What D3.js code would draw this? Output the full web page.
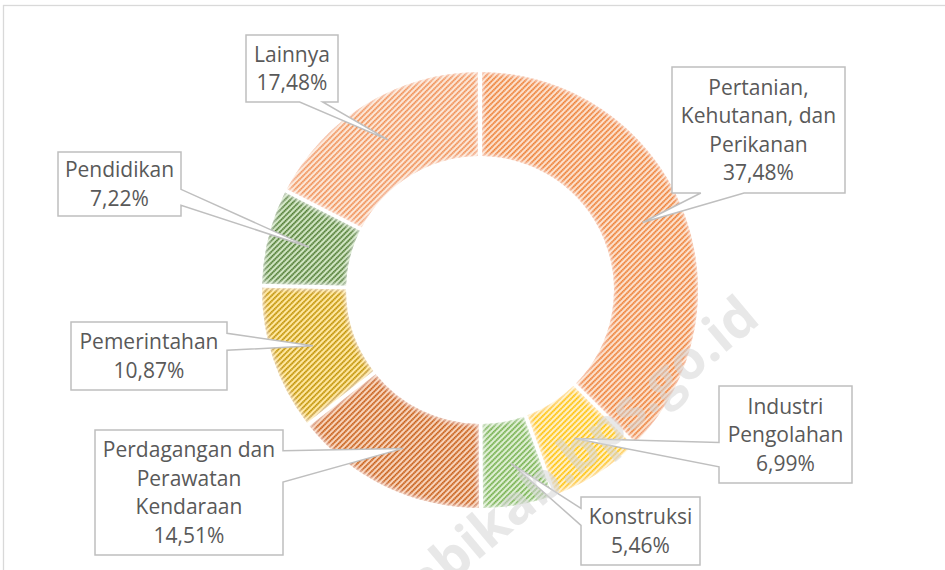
<!DOCTYPE html>
<html>
<head>
<meta charset="utf-8">
<script src="https://cdn.jsdelivr.net/npm/d3@7"></script>
<style>
  html, body { margin: 0; padding: 0; background: #fff; }
  svg { display: block; }
  .lbl { font-family: "Open Sans", sans-serif; font-size: 21px; fill: #595959; }
</style>
</head>
<body>
<div id="chart"></div>
<script>
// sectors (label lines), clockwise from 12 o'clock, and their share in %
var sectors = [
    ["Pertanian,", "Kehutanan, dan", "Perikanan"],
    ["Industri", "Pengolahan"],
    ["Konstruksi"],
    ["Perdagangan dan", "Perawatan", "Kendaraan"],
    ["Pemerintahan"],
    ["Pendidikan"],
    ["Lainnya"]
];
var shares = [37.48, 6.99, 5.46, 14.51, 10.87, 7.22, 17.48];

// pattern colours: stripe colour and ground colour per slice
var stripeColors = ["#ED7D31", "#FFC000", "#70AD47", "#C55A11", "#BF9000", "#4E7A31", "#F08D50"];
var groundColors = ["#FCE0CC", "#FFF0C6", "#DEEFD3", "#F8D3BA", "#FFE7A0", "#D0E5C2", "#FCE6D6"];

var watermark = "https://muarojambikab.bps.go.id";

// where the data callouts sit (layout only)
var boxes = [
    {x: 672, y: 67,  w: 173, h: 126},
    {x: 719, y: 386, w: 133, h: 97},
    {x: 581, y: 497, w: 119, h: 68},
    {x: 95,  y: 430, w: 188, h: 125},
    {x: 71,  y: 322, w: 156, h: 68},
    {x: 58,  y: 152, w: 123, h: 64},
    {x: 246, y: 35,  w: 92,  h: 67}
];

var width = 945, height = 570;
var cx = 480, cy = 290, outerR = 218, innerR = 134;
var lineH = 28.5;

var fmt = d3.format(".2f");
function pct(v) { return fmt(v).replace(".", ",") + "%"; }

var svg = d3.select("#chart").append("svg")
    .attr("width", width)
    .attr("height", height);

var defs = svg.append("defs");

// diagonal stripe patterns (dotted look)
shares.forEach(function(v, i) {
    var p = defs.append("pattern")
        .attr("id", "pat" + i)
        .attr("patternUnits", "userSpaceOnUse")
        .attr("width", 3.9)
        .attr("height", 2)
        .attr("patternTransform", "rotate(45)");
    p.append("rect").attr("width", 3.9).attr("height", 2).attr("fill", groundColors[i]);
    p.append("rect").attr("x", 0).attr("width", 1.7).attr("height", 2)
        .attr("fill", stripeColors[i]).attr("opacity", 0.62);
    p.append("rect").attr("x", 0).attr("width", 1.7).attr("height", 1.1)
        .attr("fill", stripeColors[i]);
});

// soft white edge, like the excel soft edge effect
var f = defs.append("filter").attr("id", "soft")
    .attr("x", "-5%").attr("y", "-5%").attr("width", "110%").attr("height", "110%");
f.append("feGaussianBlur").attr("in", "SourceAlpha").attr("stdDeviation", 2.6).attr("result", "blur");
f.append("feComponentTransfer").attr("in", "blur").attr("result", "inv")
    .append("feFuncA").attr("type", "linear").attr("slope", -1).attr("intercept", 1);
f.append("feFlood").attr("flood-color", "#fff").attr("flood-opacity", 0.8).attr("result", "white");
f.append("feComposite").attr("in", "white").attr("in2", "inv").attr("operator", "in").attr("result", "glow");
f.append("feComposite").attr("in", "glow").attr("in2", "SourceAlpha").attr("operator", "in").attr("result", "glowIn");
var m = f.append("feMerge");
m.append("feMergeNode").attr("in", "SourceGraphic");
m.append("feMergeNode").attr("in", "glowIn");

// chart frame
svg.append("rect")
    .attr("x", 3.5).attr("y", 5.5)
    .attr("width", width + 10).attr("height", height + 10)
    .attr("fill", "none")
    .attr("stroke", "#d9d9d9")
    .attr("stroke-width", 1.3);

var pie = d3.pie().sort(null).value(function(d) { return d; });
var arcs = pie(shares);

var arc = d3.arc()
    .innerRadius(innerR)
    .outerRadius(outerR)
    .padRadius(200)
    .padAngle(4 / 200);

var g = svg.append("g").attr("transform", "translate(" + cx + "," + cy + ")");

g.selectAll("path.slice")
    .data(arcs)
    .enter().append("path")
    .attr("class", "slice")
    .attr("d", arc)
    .attr("fill", function(d, i) { return "url(#pat" + i + ")"; })
    .attr("filter", "url(#soft)");

// callout shape: box with a wedge pointing at (tx, ty)
function calloutPath(b, tx, ty) {
    var x0 = b.x, y0 = b.y, x1 = b.x + b.w, y1 = b.y + b.h;
    var dx = tx - (x0 + b.w / 2), dy = ty - (y0 + b.h / 2);
    var side = Math.abs(dx * b.h / b.w) > Math.abs(dy) ? (dx > 0 ? "right" : "left") : (dy > 0 ? "bottom" : "top");
    var gx1 = b.w * (dx > 0 ? 7 : 2) / 12, gx2 = b.w * (dx > 0 ? 10 : 5) / 12;
    var gy1 = b.h * (dy > 0 ? 7 : 2) / 12, gy2 = b.h * (dy > 0 ? 10 : 5) / 12;
    var pts = [[x0, y0]];
    if (side == "top") pts.push([x0 + gx1, y0], [tx, ty], [x0 + gx2, y0]);
    pts.push([x1, y0]);
    if (side == "right") pts.push([x1, y0 + gy1], [tx, ty], [x1, y0 + gy2]);
    pts.push([x1, y1]);
    if (side == "bottom") pts.push([x0 + gx2, y1], [tx, ty], [x0 + gx1, y1]);
    pts.push([x0, y1]);
    if (side == "left") pts.push([x0, y0 + gy2], [tx, ty], [x0, y0 + gy1]);
    return "M" + pts.join("L") + "Z";
}

var labels = svg.append("g");

arcs.forEach(function(d, i) {
    var c = arc.centroid(d);
    var b = boxes[i];
    labels.append("path")
        .attr("d", calloutPath(b, cx + c[0], cy + c[1]))
        .attr("fill", "#fff")
        .attr("stroke", "#bfbfbf")
        .attr("stroke-width", 1.5)
        .attr("stroke-linejoin", "miter");

    var lines = sectors[i].concat([pct(shares[i])]);
    var top = b.y + (b.h - lines.length * lineH) / 2;
    var t = labels.append("text")
        .attr("class", "lbl")
        .attr("text-anchor", "middle");
    lines.forEach(function(s, k) {
        t.append("tspan")
            .attr("x", b.x + b.w / 2)
            .attr("y", top + lineH * k + lineH / 2 + 7.5)
            .text(s);
    });
});

// faint site watermark over the chart
svg.append("text")
    .attr("transform", "translate(762,322) rotate(-40)")
    .attr("text-anchor", "end")
    .style("font-family", "'Open Sans', sans-serif")
    .style("font-weight", "bold")
    .style("font-size", "54px")
    .attr("fill", "#d6d6d6")
    .attr("opacity", 0.55)
    .text(watermark);
</script>
</body>
</html>
